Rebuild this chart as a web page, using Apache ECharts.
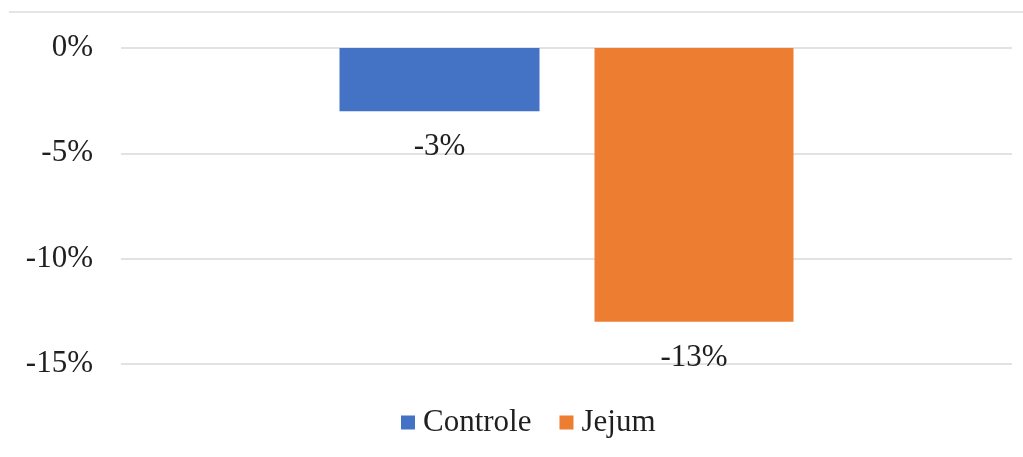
<!DOCTYPE html>
<html>
<head>
<meta charset="utf-8">
<script src="https://cdn.jsdelivr.net/npm/echarts@6/dist/echarts.min.js"></script>
<style>
  html, body { margin: 0; padding: 0; background: #fff; }
  #chart { width: 1023px; height: 457px; }
</style>
</head>
<body>
<div id="chart"></div>
<script>
// Percentage change per group
const categories = ['Variação'];
const seriesNames = ['Controle', 'Jejum'];
const controleValues = [-3];
const jejumValues = [-13];
const seriesColors = ['#4472C4', '#ED7D31'];

const FONT = '"Liberation Serif", "Times New Roman", serif';
const TEXT_COLOR = '#1f1f1f';

const chart = echarts.init(document.getElementById('chart'));

const valueLabel = {
  show: true,
  position: 'bottom',
  distance: 20,
  formatter: p => p.value + '%',
  fontFamily: FONT,
  fontSize: 31,
  color: TEXT_COLOR
};

chart.setOption({
  animation: false,
  backgroundColor: '#fff',
  graphic: [{
    type: 'line',
    shape: { x1: 9, y1: 12, x2: 1023, y2: 12 },
    style: { stroke: '#dcdcdc', lineWidth: 1.5 },
    silent: true
  }],
  grid: { left: 121, right: 11, top: 48, bottom: 93 },
  legend: {
    data: seriesNames,
    left: 396,
    top: 402,
    itemWidth: 14,
    itemHeight: 14,
    itemGap: 28,
    icon: 'rect',
    textStyle: { fontFamily: FONT, fontSize: 31, color: TEXT_COLOR, padding: [0, 0, 0, 3] }
  },
  xAxis: {
    type: 'category',
    data: categories,
    axisLine: { show: false },
    axisTick: { show: false },
    axisLabel: { show: false },
    splitLine: { show: false }
  },
  yAxis: {
    type: 'value',
    min: -15,
    max: 0,
    interval: 5,
    axisLine: { show: false },
    axisTick: { show: false },
    axisLabel: {
      formatter: '{value}%',
      margin: 28,
      fontFamily: FONT,
      fontSize: 31,
      color: TEXT_COLOR
    },
    splitLine: { lineStyle: { color: '#d9d9d9', width: 1.5 } }
  },
  series: [
    {
      name: seriesNames[0],
      type: 'bar',
      data: controleValues,
      barWidth: 200,
      barGap: '27.5%',
      itemStyle: { color: seriesColors[0] },
      label: valueLabel
    },
    {
      name: seriesNames[1],
      type: 'bar',
      data: jejumValues,
      barWidth: 199,
      itemStyle: { color: seriesColors[1] },
      label: valueLabel
    }
  ]
});
</script>
</body>
</html>
